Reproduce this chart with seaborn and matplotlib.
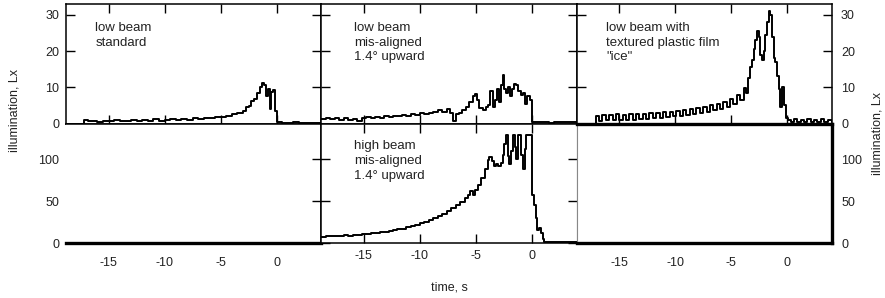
import numpy as np
import seaborn as sns
import matplotlib.pyplot as plt

# ---- data (time in s, illumination in Lx) ----
std_t = [-18.8, -17.2, -16.8, -16.4, -16.0, -15.5, -15.0, -14.5, -14.0, -13.5, -13.0, -12.5,
         -12.0, -11.5, -11.0, -10.5, -10.0, -9.5, -9.0, -8.5, -8.0, -7.5, -7.0, -6.5, -6.0,
         -5.5, -5.0, -4.5, -4.0, -3.5, -3.0, -2.75, -2.5, -2.25, -2.0, -1.75, -1.5, -1.3,
         -1.1, -0.9, -0.75, -0.6, -0.45, -0.3, -0.15, 0.0, 0.5, 1.0, 1.5, 2.0, 2.5, 3.0, 3.5, 4.0]
std_y = [0.0, 1.0, 0.6, 0.8, 0.5, 0.7, 0.6, 0.9, 0.6, 0.8, 1.0, 0.7,
         0.9, 0.8, 1.2, 0.8, 1.0, 1.3, 1.0, 1.2, 1.1, 1.4, 1.2, 1.6, 1.5,
         1.9, 1.7, 2.2, 2.5, 2.9, 3.4, 4.5, 4.8, 6.3, 6.8, 8.5, 10.2, 11.2,
         10.5, 7.5, 9.5, 4.0, 8.8, 9.2, 3.5, 0.3, 0.2, 0.1, 0.3, 0.1, 0.2, 0.1, 0.2, 0.1]

mis_t = [-18.8, -18.4, -18.0, -17.6, -17.2, -16.8, -16.4, -16.0, -15.6, -15.2, -14.8, -14.4,
         -14.0, -13.6, -13.2, -12.8, -12.4, -12.0, -11.6, -11.2, -10.8, -10.4, -10.0, -9.6,
         -9.2, -8.8, -8.4, -8.0, -7.6, -7.3, -7.0, -6.8, -6.5, -6.2, -5.9, -5.6, -5.3, -5.1,
         -4.9, -4.7, -4.4, -4.1, -3.9, -3.7, -3.5, -3.3, -3.1, -2.95, -2.8, -2.6, -2.45, -2.3,
         -2.1, -1.95, -1.8, -1.6, -1.4, -1.2, -1.0, -0.8, -0.6, -0.4, -0.2, 0.0, 0.5, 1.0,
         1.5, 2.0, 2.5, 3.0, 3.5, 4.0]
mis_y = [1.2, 1.6, 1.2, 1.5, 1.0, 1.4, 1.1, 1.3, 0.8, 1.5, 1.7, 1.4,
         1.9, 1.6, 2.1, 1.8, 2.2, 2.0, 2.4, 2.1, 2.6, 2.3, 2.8, 2.5,
         3.0, 3.3, 3.6, 3.2, 3.9, 3.0, 0.8, 2.5, 2.9, 3.6, 4.6, 6.0, 7.5, 8.2,
         6.5, 4.2, 3.6, 4.5, 5.2, 9.0, 4.5, 6.5, 9.5, 6.0, 10.5, 13.5, 9.5, 8.5,
         10.0, 7.5, 9.5, 11.0, 10.5, 9.0, 7.8, 8.5, 5.5, 7.5, 6.5, 0.4, 0.3, 0.4,
         0.2, 0.3, 0.4, 0.3, 0.4, 0.3]

ice_t = [-18.8, -17.1, -16.8, -16.5, -16.2, -15.9, -15.6, -15.3, -15.0, -14.7, -14.4, -14.1,
         -13.8, -13.5, -13.2, -12.9, -12.6, -12.3, -12.0, -11.7, -11.4, -11.1, -10.8, -10.5,
         -10.2, -9.9, -9.6, -9.3, -9.0, -8.7, -8.4, -8.1, -7.8, -7.5, -7.2, -6.9, -6.6, -6.3,
         -6.0, -5.7, -5.4, -5.1, -4.8, -4.5, -4.2, -3.9, -3.7, -3.5, -3.3, -3.15, -3.0, -2.85,
         -2.7, -2.55, -2.4, -2.25, -2.1, -1.95, -1.8, -1.65, -1.5, -1.35, -1.2, -1.05, -0.9,
         -0.75, -0.6, -0.45, -0.3, -0.15, 0.05, 0.3, 0.6, 0.9, 1.2, 1.5, 1.8, 2.1, 2.4, 2.7,
         3.0, 3.3, 3.6, 4.0]
ice_y = [0.0, 2.2, 0.8, 2.4, 1.0, 2.3, 0.9, 2.5, 1.0, 2.4, 1.1, 2.6,
         1.0, 2.5, 1.2, 2.7, 1.3, 2.8, 1.5, 3.0, 1.6, 3.2, 1.8, 3.3,
         2.0, 3.5, 2.2, 3.8, 2.4, 4.0, 2.6, 4.3, 2.9, 4.6, 3.2, 5.0, 3.6, 5.5,
         4.0, 6.0, 4.6, 6.8, 5.4, 7.8, 6.5, 9.8, 8.5, 12.5, 15.5, 17.5, 20.5, 23.0,
         25.5, 24.0, 19.0, 17.5, 20.0, 24.5, 28.0, 31.0, 30.0, 24.0, 18.0, 17.0, 13.0,
         9.5, 4.5, 10.0, 5.0, 1.5, 1.0, 0.5, 1.2, 0.4, 1.1, 0.5, 1.2, 0.4, 1.1, 0.5,
         1.2, 0.4, 1.0, 0.5]

high_t = [-18.8, -18.4, -18.0, -17.6, -17.2, -16.8, -16.4, -16.0, -15.6, -15.2, -14.8, -14.4,
          -14.0, -13.6, -13.2, -12.8, -12.4, -12.0, -11.6, -11.2, -10.8, -10.4, -10.0, -9.6,
          -9.2, -8.8, -8.4, -8.0, -7.6, -7.2, -6.8, -6.4, -6.0, -5.7, -5.5, -5.3, -5.1, -4.8,
          -4.5, -4.2, -3.95, -3.8, -3.6, -3.4, -3.2, -3.0, -2.8, -2.6, -2.45, -2.3, -2.15, -2.0,
          -1.85, -1.7, -1.55, -1.4, -1.25, -1.1, -0.95, -0.8, -0.65, -0.5, -0.3, -0.1, 0.05,
          0.2, 0.35, 0.5, 0.65, 0.8, 0.95, 1.1, 1.5, 2.0, 2.5, 3.0, 3.5, 4.0]
high_y = [7.5, 8.5, 7.8, 8.8, 8.2, 9.2, 8.8, 9.8, 9.5, 10.5, 10.8, 11.5,
          12.0, 12.8, 13.5, 14.5, 15.2, 16.5, 17.3, 18.8, 20.0, 21.8, 23.5, 25.0,
          27.5, 29.5, 32.0, 35.0, 38.5, 42.0, 45.5, 49.0, 53.5, 57.0, 62.0, 58.0, 63.0, 70.0,
          78.0, 88.0, 99.0, 103.0, 98.0, 92.0, 94.0, 92.0, 96.0, 105.0, 118.0, 129.0, 104.0, 95.0,
          110.0, 129.0, 115.0, 100.0, 129.0, 129.0, 105.0, 88.0, 112.0, 129.0, 129.0, 129.0, 58.0,
          45.0, 30.0, 15.0, 18.0, 12.0, 5.0, 1.0, 0.8, 1.2, 0.8, 1.0, 0.8, 1.0]

labels = ["low beam\nstandard",
          "low beam\nmis-aligned\n1.4° upward",
          "low beam with\ntextured plastic film\n\"ice\"",
          None,
          "high beam\nmis-aligned\n1.4° upward",
          None]
top_ticks = [0, 10, 20, 30]
bottom_ticks = [0, 50, 100]
x_ticks = [-15, -10, -5, 0]

sns.set_theme(style="white")
plt.rcParams["font.family"] = ["Liberation Sans", "DejaVu Sans"]
plt.rcParams["axes.unicode_minus"] = False
ink = "#222222"

fig, axes = plt.subplots(2, 3, figsize=(8.85, 2.98), dpi=100, sharex=True)
plt.subplots_adjust(left=66 / 885, right=832 / 885, top=1 - 4 / 298, bottom=1 - 243 / 298,
                    wspace=0, hspace=0)

series = {(0, 0): (std_t, std_y), (0, 1): (mis_t, mis_y), (0, 2): (ice_t, ice_y),
          (1, 1): (high_t, high_y)}
for (r, c), (tt, yy) in series.items():
    sns.lineplot(x=tt, y=yy, ax=axes[r, c], color="black", lw=1.4, drawstyle="steps-post")

for r in range(2):
    for c in range(3):
        ax = axes[r, c]
        ax.set_xlim(-18.8, 4.0)
        ax.set_xticks(x_ticks)
        if r == 0:
            ax.set_ylim(0, 33)
            ax.set_yticks(top_ticks)
        else:
            ax.set_ylim(0, 143)
            ax.set_yticks(bottom_ticks)
        for s in ax.spines.values():
            s.set_color("black")
            s.set_linewidth(1.1)
        ax.tick_params(which="both", direction="in", length=6.8, width=1.0, color="black",
                       top=True, bottom=True, left=True, right=True,
                       labelleft=(c == 0), labelright=(c == 2),
                       labelbottom=(r == 1), labeltop=False,
                       labelsize=9, labelcolor=ink, pad=5)
        ax.set_xlabel("")
        ax.set_ylabel("")
        if labels[r * 3 + c]:
            ax.text(0.115 if c != 1 else 0.128, 0.85 if r == 0 else 0.86, labels[r * 3 + c],
                    transform=ax.transAxes, ha="left", va="top", fontsize=9.5,
                    color=ink, linespacing=1.3)

# bottom-left: empty, flat line at zero, no left frame
bl = axes[1, 0]
bl.spines["left"].set_visible(False)
bl.spines["bottom"].set_linewidth(2.4)
bl.tick_params(length=0)
bl.tick_params(axis="x", pad=10)

# bottom-middle: ticks cross into neighbours, grey right edge
bm = axes[1, 1]
bm.spines["right"].set_color("#888888")
bm.spines["right"].set_linewidth(0.8)
bm.tick_params(axis="y", direction="inout", length=13.6)
bm.tick_params(axis="x", pad=5)
bm.set_xlabel("time, s", fontsize=9, color=ink, labelpad=14)

# bottom-right: empty, heavy frame
br = axes[1, 2]
br.spines["left"].set_color("#888888")
br.spines["left"].set_linewidth(0.8)
for side in ["top", "right", "bottom"]:
    br.spines[side].set_linewidth(2.4)
br.tick_params(length=0)
br.tick_params(axis="x", pad=10)
br.tick_params(axis="y", pad=6.5)
axes[0, 2].tick_params(axis="y", pad=6.5)

fig.text(15 / 885, 1 - 110 / 298, "illumination, Lx", rotation=90, ha="center", va="center",
         fontsize=9, color=ink)
fig.text(877 / 885, 1 - 133 / 298, "illumination, Lx", rotation=90, ha="center", va="center",
         fontsize=9, color=ink)

fig.savefig("out.png", dpi=100)
